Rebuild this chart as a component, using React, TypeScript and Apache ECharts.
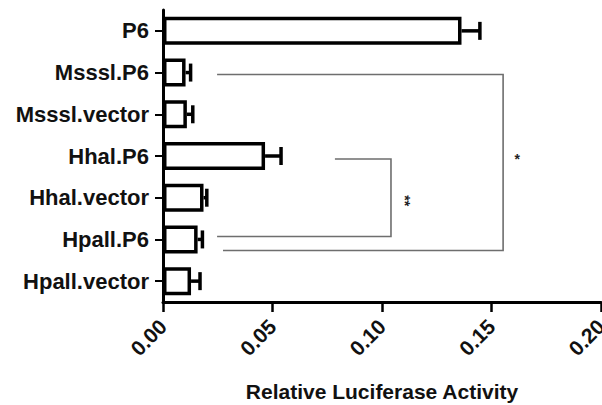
import React, { useEffect, useRef } from "react";
import * as echarts from "echarts";

const categories = ["P6", "Msssl.P6", "Msssl.vector", "Hhal.P6", "Hhal.vector", "Hpall.P6", "Hpall.vector"];
const means = [0.1363, 0.0103, 0.0109, 0.0466, 0.0185, 0.0158, 0.0128];
const errors = [0.0084, 0.0023, 0.0027, 0.0073, 0.0015, 0.0022, 0.0041];
const xMin = 0;
const xMax = 0.2;
const xInterval = 0.05;
const axisTitle = "Relative Luciferase Activity";
// significance brackets: [topCategory, bottomCategory], [topStartX, bottomStartX, rightX]
const bracketCats = [[1, 5], [3, 5]];
const bracketXs = [[0.0247, 0.0274, 0.1553], [0.0785, 0.0247, 0.1041]];
const bracketLabels = ["*", "**"];

const FONT = 'Arial, "Liberation Sans", Helvetica, sans-serif';
const bracketOffsets = [[2, 11], [3, -3]];

export default function App() {
  const ref = useRef<HTMLDivElement>(null);
  useEffect(() => {
    document.body.style.margin = "0";
    const chart = echarts.init(ref.current!, null, { renderer: "svg" });
    const option: any = {
      animation: false,
      backgroundColor: "#fff",
      grid: { left: 163, right: 1, top: 10, bottom: 103, containLabel: false, outerBoundsMode: "none" },
      xAxis: {
        type: "value",
        min: xMin,
        max: xMax,
        interval: xInterval,
        name: axisTitle,
        nameLocation: "middle",
        nameGap: 79,
        nameTextStyle: { fontFamily: FONT, fontWeight: "bold", fontSize: 21, color: "#111" },
        splitLine: { show: false },
        axisLine: { show: true, lineStyle: { color: "#000", width: 3 } },
        axisTick: { show: true, length: 10, lineStyle: { color: "#000", width: 2.5 } },
        axisLabel: {
          rotate: 45,
          margin: 21,
          fontFamily: FONT,
          fontWeight: "bold",
          fontSize: 21,
          color: "#111",
          formatter: (v: number) => v.toFixed(2),
        },
      },
      yAxis: {
        type: "category",
        data: categories,
        inverse: true,
        axisLine: { show: true, lineStyle: { color: "#000", width: 3 } },
        axisTick: { show: true, alignWithLabel: true, length: 8, lineStyle: { color: "#000", width: 2 } },
        axisLabel: { margin: 14, fontFamily: FONT, fontWeight: "bold", fontSize: 22, color: "#111" },
      },
      series: [
        {
          type: "bar",
          data: means,
          barWidth: 28,
          itemStyle: { color: "#fff", borderColor: "#000", borderWidth: 3.5 },
          z: 2,
        },
        {
          type: "custom",
          z: 3,
          data: means.map((m, i) => [m, i, errors[i]]),
          encode: { x: 0, y: 1 },
          renderItem: (params: any, api: any) => {
            const v = api.value(0);
            const c = api.value(1);
            const e = api.value(2);
            const p0 = api.coord([v, c]);
            const p1 = api.coord([v + e, c]);
            const half = 9;
            return {
              type: "group",
              children: [
                { type: "line", shape: { x1: p0[0], y1: p0[1], x2: p1[0], y2: p1[1] }, style: { stroke: "#000", lineWidth: 3.5 } },
                { type: "line", shape: { x1: p1[0], y1: p1[1] - half, x2: p1[0], y2: p1[1] + half }, style: { stroke: "#000", lineWidth: 3.5 } },
              ],
            };
          },
        },
        {
          type: "custom",
          z: 4,
          data: bracketCats.map((bc, i) => [bracketXs[i][2], bc[0], bc[1], bracketXs[i][0], bracketXs[i][1], i]),
          encode: { x: 0, y: 1 },
          renderItem: (params: any, api: any) => {
            const right = api.value(0);
            const top = api.value(1);
            const bottom = api.value(2);
            const topStart = api.value(3);
            const bottomStart = api.value(4);
            const idx = api.value(5);
            const off = bracketOffsets[idx];
            const a = api.coord([topStart, top]);
            const b = api.coord([right, top]);
            const c = api.coord([right, bottom]);
            const d = api.coord([bottomStart, bottom]);
            const yTop = a[1] + off[0];
            const yBot = c[1] + off[1];
            const midY = (yTop + yBot) / 2;
            const label = bracketLabels[idx];
            return {
              type: "group",
              children: [
                {
                  type: "polyline",
                  shape: { points: [[a[0], yTop], [b[0], yTop], [c[0], yBot], [d[0], yBot]] },
                  style: { stroke: "#6e6e6e", lineWidth: 1.6, fill: "none" },
                },
                {
                  type: "text",
                  x: b[0] + 14,
                  y: label.length > 1 ? midY + 3 : midY - 4,
                  rotation: label.length > 1 ? -Math.PI / 2 : 0,
                  style: {
                    text: label,
                    fontFamily: FONT,
                    fontWeight: "bold",
                    fontSize: 14,
                    fill: "#222",
                    align: "center",
                    verticalAlign: "middle",
                  },
                },
              ],
            };
          },
        },
      ],
    };
    chart.setOption(option);
    return () => chart.dispose();
  }, []);
  return <div ref={ref} style={{ width: 602, height: 405, position: "fixed", left: 0, top: 0 }} />;
}
